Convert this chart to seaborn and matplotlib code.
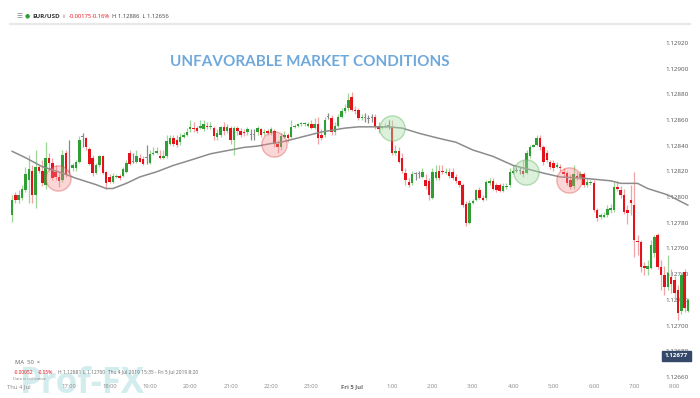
import numpy as np
import pandas as pd
import seaborn as sns
import matplotlib.pyplot as plt

# EUR/USD 5-minute candles, Thu 4 Jul 2019 15:35 -> Fri 5 Jul 2019 8:20
# prices are stored in points (1e-5) above BASE
BASE = 1.12

open_pts = [786, 802, 798, 800, 806, 814, 821, 802, 824, 821,
            810, 831, 827, 820, 816, 814, 835, 820, 823, 823,
            828, 847, 846, 838, 831, 819, 825, 832, 820, 816,
            812, 816, 817, 817, 820, 835, 828, 828, 831, 830,
            831, 827, 834, 835, 832, 831, 832, 842, 846, 845,
            843, 847, 849, 853, 854, 854, 854, 853, 856, 855,
            854, 847, 849, 855, 852, 854, 845, 854, 852, 851,
            851, 849, 849, 851, 853, 850, 852, 850, 852, 842,
            839, 847, 849, 847, 855, 856, 857, 857, 856, 857,
            854, 857, 849, 849, 863, 862, 851, 856, 863, 867,
            870, 878, 868, 868, 862, 862, 861, 862, 863, 856,
            854, 855, 856, 855, 835, 836, 831, 819, 812, 811,
            818, 818, 816, 814, 813, 800, 815, 821, 821, 819,
            820, 820, 816, 813, 810, 795, 780, 796, 798, 806,
            800, 800, 811, 813, 810, 810, 805, 808, 810, 819,
            821, 821, 821, 819, 832, 839, 841, 846, 839, 835,
            828, 827, 824, 824, 820, 819, 814, 809, 817, 816,
            818, 810, 811, 811, 790, 785, 785, 786, 790, 790,
            808, 806, 802, 790, 798, 794, 766, 765, 747, 744,
            745, 757, 771, 746, 740, 730, 738, 736, 728, 712,
            742, 712]

high_pts = [802, 804, 806, 810, 824, 833, 825, 837, 825, 829,
            843, 835, 831, 825, 820, 837, 837, 845, 827, 829,
            848, 850, 847, 839, 833, 827, 833, 833, 821, 818,
            819, 818, 818, 824, 829, 837, 835, 837, 834, 832,
            841, 837, 839, 839, 837, 837, 849, 849, 849, 849,
            850, 851, 854, 860, 859, 856, 860, 860, 859, 859,
            856, 853, 856, 859, 857, 856, 856, 856, 854, 853,
            855, 853, 853, 856, 854, 853, 853, 855, 853, 845,
            850, 852, 850, 860, 857, 858, 859, 859, 859, 860,
            862, 863, 853, 863, 866, 864, 859, 865, 870, 873,
            881, 882, 871, 870, 865, 866, 864, 865, 865, 859,
            856, 858, 860, 860, 841, 839, 835, 823, 815, 821,
            820, 821, 823, 818, 815, 823, 825, 825, 825, 823,
            823, 823, 818, 814, 811, 797, 798, 799, 807, 808,
            802, 814, 815, 815, 811, 811, 811, 811, 823, 825,
            824, 824, 829, 837, 841, 842, 849, 849, 841, 837,
            829, 829, 828, 826, 823, 821, 818, 825, 820, 821,
            820, 815, 814, 814, 792, 788, 789, 794, 795, 812,
            813, 809, 807, 794, 810, 820, 771, 767, 750, 751,
            767, 771, 772, 751, 747, 755, 744, 739, 732, 742,
            744, 722]

low_pts = [781, 796, 796, 798, 804, 796, 796, 792, 819, 809,
           807, 821, 814, 814, 808, 812, 816, 818, 821, 821,
           827, 839, 837, 825, 817, 818, 824, 818, 807, 811,
           811, 815, 814, 816, 819, 825, 827, 827, 828, 825,
           826, 826, 833, 834, 830, 830, 831, 841, 840, 839,
           841, 846, 848, 851, 851, 850, 853, 852, 853, 853,
           845, 845, 847, 849, 850, 842, 833, 849, 847, 848,
           849, 845, 845, 849, 847, 849, 849, 849, 839, 835,
           837, 846, 843, 846, 854, 855, 856, 856, 855, 853,
           853, 842, 845, 847, 861, 849, 849, 855, 862, 866,
           867, 867, 865, 860, 860, 859, 858, 859, 853, 850,
           853, 854, 853, 833, 833, 827, 819, 810, 808, 810,
           814, 815, 815, 807, 798, 799, 814, 814, 818, 818,
           815, 814, 811, 808, 793, 778, 779, 795, 797, 799,
           797, 798, 810, 806, 804, 804, 804, 807, 808, 818,
           820, 818, 816, 818, 831, 839, 840, 837, 825, 828,
           822, 821, 823, 821, 816, 810, 807, 807, 814, 814,
           808, 808, 810, 789, 782, 783, 784, 785, 788, 789,
           805, 800, 787, 779, 786, 754, 755, 742, 740, 740,
           744, 754, 744, 728, 724, 728, 726, 720, 705, 709,
           711, 711]

close_pts = [798, 798, 802, 807, 818, 822, 802, 824, 821, 811,
             831, 827, 815, 816, 813, 833, 818, 820, 825, 828,
             845, 847, 839, 826, 819, 825, 832, 819, 811, 812,
             817, 817, 815, 822, 827, 826, 828, 832, 828, 826,
             831, 834, 835, 836, 831, 832, 844, 846, 842, 841,
             847, 849, 851, 855, 853, 852, 856, 857, 855, 856,
             848, 850, 855, 852, 855, 845, 854, 852, 849, 850,
             853, 849, 849, 854, 849, 851, 850, 853, 842, 839,
             848, 849, 846, 855, 856, 857, 858, 858, 857, 854,
             857, 846, 846, 860, 863, 851, 856, 863, 867, 870,
             876, 868, 867, 862, 863, 862, 861, 862, 855, 853,
             855, 856, 856, 835, 836, 828, 821, 814, 810, 818,
             818, 818, 820, 809, 802, 820, 820, 815, 820, 820,
             817, 815, 813, 810, 794, 780, 796, 797, 806, 800,
             798, 812, 813, 807, 806, 805, 809, 809, 820, 821,
             821, 821, 818, 835, 839, 841, 846, 839, 828, 829,
             824, 823, 825, 823, 818, 811, 808, 818, 815, 818,
             810, 812, 812, 790, 784, 786, 786, 791, 792, 808,
             807, 802, 789, 788, 796, 767, 765, 746, 745, 747,
             763, 769, 746, 740, 730, 741, 733, 726, 710, 740,
             714, 720]

# MA 50 (candle index, points)
ma_idx = [0, 4, 9, 15, 19, 25, 28, 30, 34, 38, 43, 48, 53, 59, 65, 69, 73, 77,
          80, 86, 92, 99, 103, 112, 116, 121, 127, 132, 137, 143, 149, 152,
          158, 163, 170, 178, 181, 186, 189, 195, 201]
ma_pts = [836, 831, 824, 819, 815, 810, 807, 807, 811, 816, 820, 825, 829,
          834, 837, 839, 840, 842, 843, 847, 851, 854, 855, 855, 854, 850,
          846, 843, 837, 832, 825, 823, 819, 816, 815, 813, 811, 811, 807,
          802, 794]

# highlighted crossings
sig_idx = [13.7, 78, 165.7, 113, 152.7]
sig_pts = [815, 842, 814, 854, 820]
sig_kind = ['bad', 'bad', 'bad', 'good', 'good']

price_ticks = [660, 680, 700, 720, 740, 760, 780, 800, 820, 840, 860, 880, 900, 920]
time_idx = [2, 17, 29, 41, 53, 65, 77, 89, 101, 113, 125, 137, 149, 161, 173, 185, 197]
time_labels = ['Thu 4 Jul', '17:00', '18:00', '19:00', '20:00', '21:00', '22:00', '23:00',
               'Fri 5 Jul', '1:00', '2:00', '3:00', '4:00', '5:00', '6:00', '7:00', '8:00']
last_price = 1.12677

sns.set_style("white")
plt.rcParams['font.family'] = ['Open Sans', 'DejaVu Sans']

df = pd.DataFrame({
    'o': BASE + np.array(open_pts) / 1e5,
    'h': BASE + np.array(high_pts) / 1e5,
    'l': BASE + np.array(low_pts) / 1e5,
    'c': BASE + np.array(close_pts) / 1e5,
})
df['i'] = np.arange(len(df))
df['h'] = df[['h', 'o', 'c']].max(axis=1)
df['l'] = df[['l', 'o', 'c']].min(axis=1)
up = df['c'] > df['o']
dn = df['c'] < df['o']
body_col = np.where(up, '#2f9e35', np.where(dn, '#e3131b', '#8a8a8a'))
wick_col = np.where(up, '#9ed69a', np.where(dn, '#f2a3a5', '#8a8a8a'))

W, H = 700, 398
fig = plt.figure(figsize=(W / 100, H / 100), dpi=100)
ax = fig.add_axes([0, 16 / H, 1, 352 / H])
ax.patch.set_alpha(0)

def px2pts(y):
    return 953.7 - 0.7782 * y

ax.set_ylim(BASE + px2pts(382) / 1e5, BASE + px2pts(30) / 1e5)
ax.set_xlim(-3.56, 204.56)

ax.vlines(df['i'], df['l'], df['h'], colors=wick_col, lw=0.9, zorder=2)
height = (df['c'] - df['o']).to_numpy()
height = np.where(np.abs(height) < 1e-9, 0.7e-5, height)
ax.bar(df['i'], height, bottom=df['o'], width=0.75, color=body_col, lw=0, zorder=3)

ma = pd.DataFrame({'i': ma_idx, 'p': BASE + np.array(ma_pts) / 1e5})
sns.lineplot(data=ma, x='i', y='p', color='#8c8c8c', lw=1.1, ax=ax, zorder=4)

sig = pd.DataFrame({'i': sig_idx, 'p': BASE + np.array(sig_pts) / 1e5, 'k': sig_kind})
sns.scatterplot(data=sig[sig.k == 'bad'], x='i', y='p', s=330, color='#f28b8b',
                alpha=0.35, edgecolor='#d83a3a', linewidth=1.0, ax=ax, zorder=5, legend=False)
sns.scatterplot(data=sig[sig.k == 'good'], x='i', y='p', s=330, color='#a9dca9',
                alpha=0.4, edgecolor='#55b055', linewidth=1.0, ax=ax, zorder=5, legend=False)

for s in ax.spines.values():
    s.set_visible(False)
ax.set_xlabel('')
ax.set_ylabel('')
ax.set_yticks([])
ax.set_xticks(time_idx)
ax.set_xticklabels(time_labels)
ax.tick_params(axis='x', length=0, pad=1.5, labelsize=4.2, labelcolor='#8a8a8a')
for lbl in ax.get_xticklabels():
    if lbl.get_text() == 'Fri 5 Jul':
        lbl.set_color('#666666')
        lbl.set_fontweight('bold')

ytr = ax.get_yaxis_transform()
for t in price_ticks:
    ax.text(689 / W, BASE + t / 1e5, f'{BASE + t / 1e5:.5f}', transform=ytr,
            ha='right', va='center', fontsize=4.5, color='#555555', zorder=1)
ax.text(688 / W, last_price, f'{last_price:.5f}', transform=ytr, ha='right', va='center',
        fontsize=4.5, color='white', fontweight='bold', zorder=6,
        bbox=dict(boxstyle='square,pad=0.4', fc='#34486a', ec='#34486a'))

def fx(x):
    return x / W

def fy(y):
    return 1 - y / H

# watermark, behind the chart
fig.text(fx(20), fy(393), 'Prof-FX', fontsize=25, fontweight='bold', color='#d3ecee',
         ha='left', va='baseline', zorder=-1)

fig.text(fx(310), fy(62), 'UNFAVORABLE MARKET CONDITIONS', fontsize=11,
         fontweight='bold', color='#6fa8dc', ha='center', va='center', family='Lato')

# header
hs = 4.2
fig.text(fx(16), fy(16), '☰', fontsize=4.8, color='#888888', va='center')
fig.text(fx(25), fy(16), '●', fontsize=4.2, color='#2f9e35', va='center')
fig.text(fx(32), fy(16), 'EUR/USD', fontsize=4.5, color='#333333', fontweight='bold', va='center')
fig.text(fx(61), fy(16), '∨', fontsize=4, color='#999999', va='center')
fig.text(fx(69), fy(16), '-0.00175', fontsize=hs, color='#e3131b', va='center')
fig.text(fx(92), fy(16), '-0.16%', fontsize=hs, color='#e3131b', va='center')
fig.text(fx(112), fy(16), 'H 1.12886  L 1.12656', fontsize=hs, color='#444444', va='center')
fig.add_artist(plt.Line2D([fx(10), fx(690)], [fy(24), fy(24)], color='#e8e8e8', lw=1.6))

# bottom legend
bs = 3.5
fig.text(fx(15), fy(363), 'MA  50  ×', fontsize=4.2, color='#666666', va='center')
fig.text(fx(14), fy(372), '-0.00052', fontsize=bs, color='#e3131b', va='center')
fig.text(fx(38), fy(372), '-0.05%', fontsize=bs, color='#e3131b', va='center')
fig.text(fx(58), fy(372), 'H 1.12881', fontsize=bs, color='#666666', va='center')
fig.text(fx(83), fy(372), 'L 1.12700', fontsize=bs, color='#666666', va='center')
fig.text(fx(108), fy(372), 'Thu 4 Jul 2019 15:35 - Fri 5 Jul 2019 8:20', fontsize=bs,
         color='#666666', va='center')
fig.text(fx(13), fy(379.5), 'Data is indicative', fontsize=3.0, color='#888888', va='center')

fig.savefig('out.png', dpi=100)
